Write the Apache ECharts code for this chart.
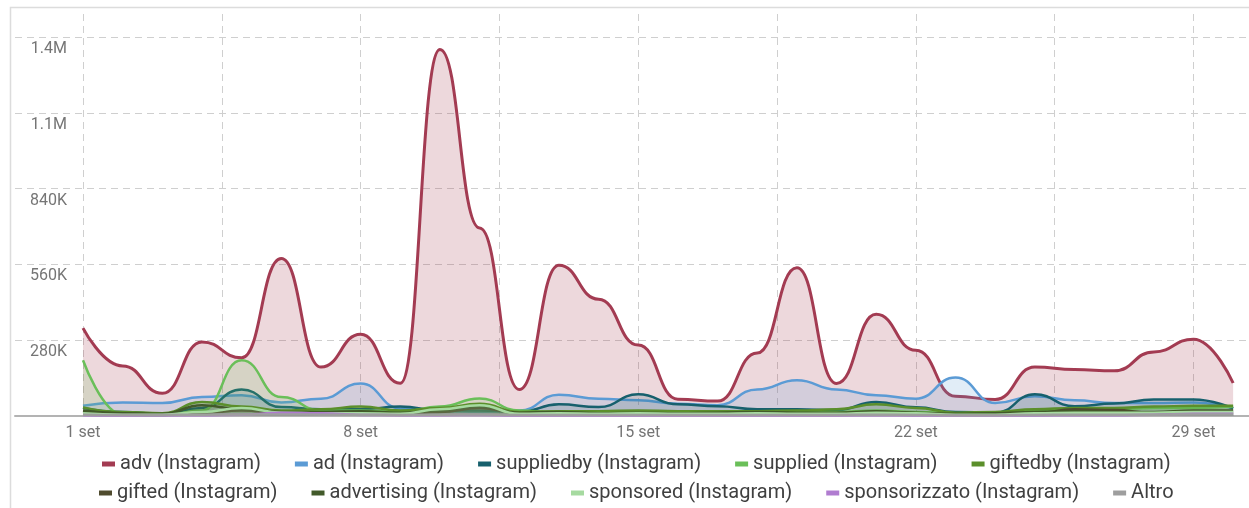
<!DOCTYPE html>
<html>
<head>
<meta charset="utf-8">
<script src="https://cdn.jsdelivr.net/npm/echarts@6/dist/echarts.min.js"></script>
<style>
html,body{margin:0;padding:0;background:#fff;}
#c{width:1249px;height:508px;}
</style>
</head>
<body>
<div id="c"></div>
<script>
// ---- data ----
const days = ['1 set','2 set','3 set','4 set','5 set','6 set','7 set','8 set','9 set','10 set',
  '11 set','12 set','13 set','14 set','15 set','16 set','17 set','18 set','19 set','20 set',
  '21 set','22 set','23 set','24 set','25 set','26 set','27 set','28 set','29 set','30 set'];
const yTicks = [280000, 560000, 840000, 1120000, 1400000];
const yTickLabels = ['280K', '560K', '840K', '1.1M', '1.4M'];

const adv = [325,185,84,274,215,582,181,302,121,1355,695,98,557,432,262,62,55,233,548,120,376,243,73,61,181,172,167,237,284,122];
const ad = [38,50,48,70,77,50,64,120,28,18,15,20,79,64,58,45,40,98,132,98,77,64,142,48,73,58,48,48,50,28];
const suppliedby = [30,15,8,30,98,33,25,25,35,20,20,15,43,33,80,43,36,25,25,22,52,32,15,12,80,36,46,61,61,28];
const supplied = [206,5,3,20,206,70,20,20,15,35,65,20,12,12,12,10,12,12,15,15,20,15,10,10,20,22,25,30,30,35];
const giftedby = [32,15,10,52,35,20,25,35,20,30,45,15,18,18,20,18,18,18,20,25,43,30,12,15,25,30,30,35,38,38];
const gifted = [15,8,5,12,20,10,8,12,8,15,30,10,8,8,10,6,8,12,10,8,15,10,5,5,10,25,22,12,10,10];
const advertising = [20,10,8,40,25,15,15,18,12,20,35,12,15,10,12,10,12,15,12,12,18,12,8,10,15,18,15,15,20,20];
const sponsored = [10,5,5,15,30,12,10,10,8,25,40,8,10,8,10,8,8,10,8,8,12,10,5,5,10,12,12,12,15,15];
const sponsorizzato = [3,2,2,3,5,12,10,4,3,3,4,2,2,2,2,2,2,2,2,2,3,2,2,2,2,3,3,5,8,8];
const altro = [5,4,4,5,6,6,5,5,4,5,6,4,4,4,4,4,4,4,4,4,5,4,3,3,4,5,5,5,6,6];

const seriesDefs = [
  ['adv (Instagram)', adv, '#a33b52'],
  ['ad (Instagram)', ad, '#5b9bd5'],
  ['suppliedby (Instagram)', suppliedby, '#17606d'],
  ['supplied (Instagram)', supplied, '#6abf59'],
  ['giftedby (Instagram)', giftedby, '#5b8f2b'],
  ['gifted (Instagram)', gifted, '#4f4b2e'],
  ['advertising (Instagram)', advertising, '#425a2a'],
  ['sponsored (Instagram)', sponsored, '#a6daa0'],
  ['sponsorizzato (Instagram)', sponsorizzato, '#b07cd0'],
  ['Altro', altro, '#9e9e9e']
];

const chart = echarts.init(document.getElementById('c'), null, {renderer: 'canvas'});
const FONT = 'Roboto';

const series = seriesDefs.map(function (d, idx) {
  return {
    name: d[0],
    type: 'line',
    xAxisIndex: 1,
    yAxisIndex: 1,
    smooth: 0.5,
    smoothMonotone: 'x',
    symbol: 'none',
    data: d[1].map(function (v, i) { return [i, v * 1000]; }),
    lineStyle: {color: d[2], width: idx === 0 ? 3 : 2.5},
    itemStyle: {color: d[2]},
    areaStyle: {color: d[2], opacity: idx === 0 ? 0.2 : 0.18},
    z: 2 + idx
  };
});

const legendText = {fontFamily: FONT, fontSize: 20, color: '#404040'};

chart.setOption({
  animation: false,
  graphic: [{
    type: 'rect', z: -10, silent: true,
    shape: {x: 10.5, y: 7.5, width: 1400, height: 700},
    style: {fill: 'none', stroke: '#dcdcdc', lineWidth: 1.5}
  }],
  grid: [
    {left: 15, right: 0, top: 37, bottom: 92},
    {left: 83, right: 0, top: 14, bottom: 92}
  ],
  xAxis: [
    {
      gridIndex: 0, type: 'value', min: 0, max: 1, show: true,
      axisLine: {show: true, onZero: false, lineStyle: {color: '#b3b3b3', width: 2}},
      axisTick: {show: false}, axisLabel: {show: false}, splitLine: {show: false}
    },
    {
      gridIndex: 1, type: 'value', min: 0, max: 29.4, interval: 3.5,
      axisLine: {show: false}, axisTick: {show: false},
      axisLabel: {
        fontFamily: FONT, fontSize: 16, color: '#757575', margin: 9,
        showMinLabel: true, showMaxLabel: false,
        formatter: function (v) {
          const r = Math.round(v);
          if (Math.abs(v - r) < 1e-6 && r % 7 === 0 && days[r]) return days[r];
          return '';
        }
      },
      splitLine: {show: true, lineStyle: {color: '#cfcfcf', type: [7, 5], width: 1}}
    }
  ],
  yAxis: [
    {
      gridIndex: 0, type: 'value', min: 0, max: 1400000, interval: 280000,
      axisLine: {show: false}, axisTick: {show: false},
      axisLabel: {
        inside: true, margin: 52, align: 'right', verticalAlign: 'top',
        padding: [4, 0, 0, 0],
        fontFamily: FONT, fontSize: 16, color: '#757575',
        showMinLabel: false,
        formatter: function (v) {
          const k = yTicks.indexOf(v);
          return k >= 0 ? yTickLabels[k] : '';
        }
      },
      splitLine: {show: true, lineStyle: {color: '#cfcfcf', type: [7, 5], width: 1}}
    },
    {
      gridIndex: 1, type: 'value', min: 0, max: 1486000,
      show: false, splitLine: {show: false}
    }
  ],
  legend: [
    {
      data: seriesDefs.slice(0, 5).map(function (d) { return d[0]; }),
      top: 449, left: 97, icon: 'rect', itemWidth: 13, itemHeight: 5, itemGap: 34,
      selectedMode: false, textStyle: legendText
    },
    {
      data: seriesDefs.slice(5).map(function (d) { return d[0]; }),
      top: 478, left: 94, icon: 'rect', itemWidth: 13, itemHeight: 5, itemGap: 34,
      selectedMode: false, textStyle: legendText
    }
  ],
  series: series
});
</script>
</body>
</html>
